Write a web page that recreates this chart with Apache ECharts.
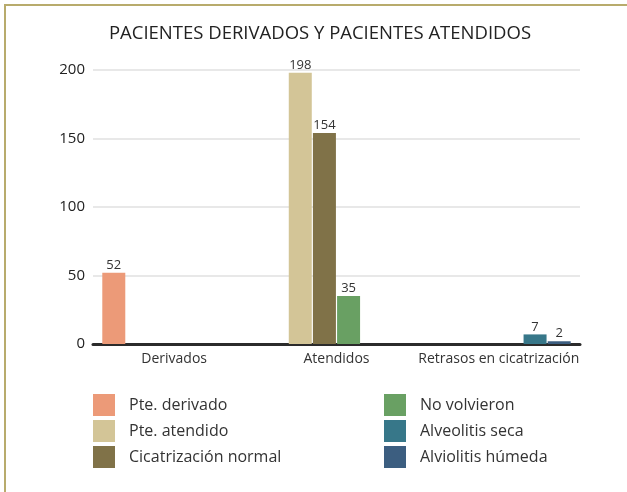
<!DOCTYPE html>
<html>
<head>
<meta charset="utf-8">
<script src="https://cdn.jsdelivr.net/npm/echarts@6/dist/echarts.min.js"></script>
<style>
  html, body { margin: 0; padding: 0; background: #fff; }
  #frame {
    position: absolute; left: 4px; top: 4px; width: 623px; height: 488px;
    border-left: 2px solid #b8ab6c; border-top: 2px solid #b8ab6c;
  }
  #chart { position: absolute; left: 0; top: 0; width: 627px; height: 492px; }
</style>
</head>
<body>
<div id="frame"></div>
<div id="chart"></div>
<script>
const categories = ['Derivados', 'Atendidos', 'Retrasos en cicatrización']
const seriesNames = ['Pte. derivado', 'Pte. atendido', 'Cicatrización normal', 'No volvieron', 'Alveolitis seca', 'Alviolitis húmeda']
const derivado = [52, 0, 0]
const atendido = [0, 198, 0]
const cicatrizacion = [0, 154, 0]
const noVolvieron = [0, 35, 0]
const alveolitisSeca = [0, 0, 7]
const alveolitisHumeda = [0, 0, 2]
const yTicks = [0, 50, 100, 150, 200]

const colors = ['#ec9a78', '#d3c597', '#807248', '#69a063', '#377789', '#3c5e80']
const values = [derivado, atendido, cicatrizacion, noVolvieron, alveolitisSeca, alveolitisHumeda]
const font = '"Open Sans", sans-serif'

const chart = echarts.init(document.getElementById('chart'))

const legendBase = {
  orient: 'vertical',
  padding: 0,
  itemWidth: 22,
  itemHeight: 22,
  itemGap: 4,
  icon: 'rect',
  selectedMode: false,
  textStyle: { fontFamily: font, fontSize: 16, color: '#333', padding: [0, 0, 0, 9] },
}

chart.setOption({
  animation: false,
  color: colors,
  title: {
    text: 'PACIENTES DERIVADOS Y PACIENTES ATENDIDOS',
    left: 320,
    textAlign: 'center',
    top: 24,
    padding: 0,
    textStyle: { fontFamily: font, fontSize: 18.5, fontWeight: 'normal', color: '#222' },
  },
  legend: [
    Object.assign({}, legendBase, { left: 93, top: 394, data: seriesNames.slice(0, 3) }),
    Object.assign({}, legendBase, { left: 384, top: 394, data: seriesNames.slice(3) }),
  ],
  grid: { left: 93, right: 47, top: 70, bottom: 148 },
  xAxis: {
    type: 'category',
    data: categories,
    axisLine: { lineStyle: { color: '#2b2b2b', width: 3 } },
    axisTick: { inside: true, length: 6, lineStyle: { color: '#777', width: 1 } },
    axisLabel: { interval: 0, fontFamily: font, fontSize: 14, color: '#333', margin: 8 },
  },
  yAxis: {
    type: 'value',
    min: yTicks[0],
    max: yTicks[yTicks.length - 1],
    interval: 50,
    axisLine: { show: false },
    axisTick: { show: false },
    axisLabel: { fontFamily: font, fontSize: 15, color: '#222', margin: 8 },
    splitLine: { lineStyle: { color: '#e8e8e8', width: 2 } },
  },
  series: seriesNames.map((name, i) => ({
    name,
    type: 'bar',
    data: values[i],
    barWidth: 23,
    barGap: '5%',
    label: {
      show: true,
      position: 'top',
      distance: 1,
      fontFamily: font,
      fontSize: 13,
      color: '#333',
      formatter: (p) => (p.value ? p.value : ''),
    },
  })),
})
</script>
</body>
</html>
